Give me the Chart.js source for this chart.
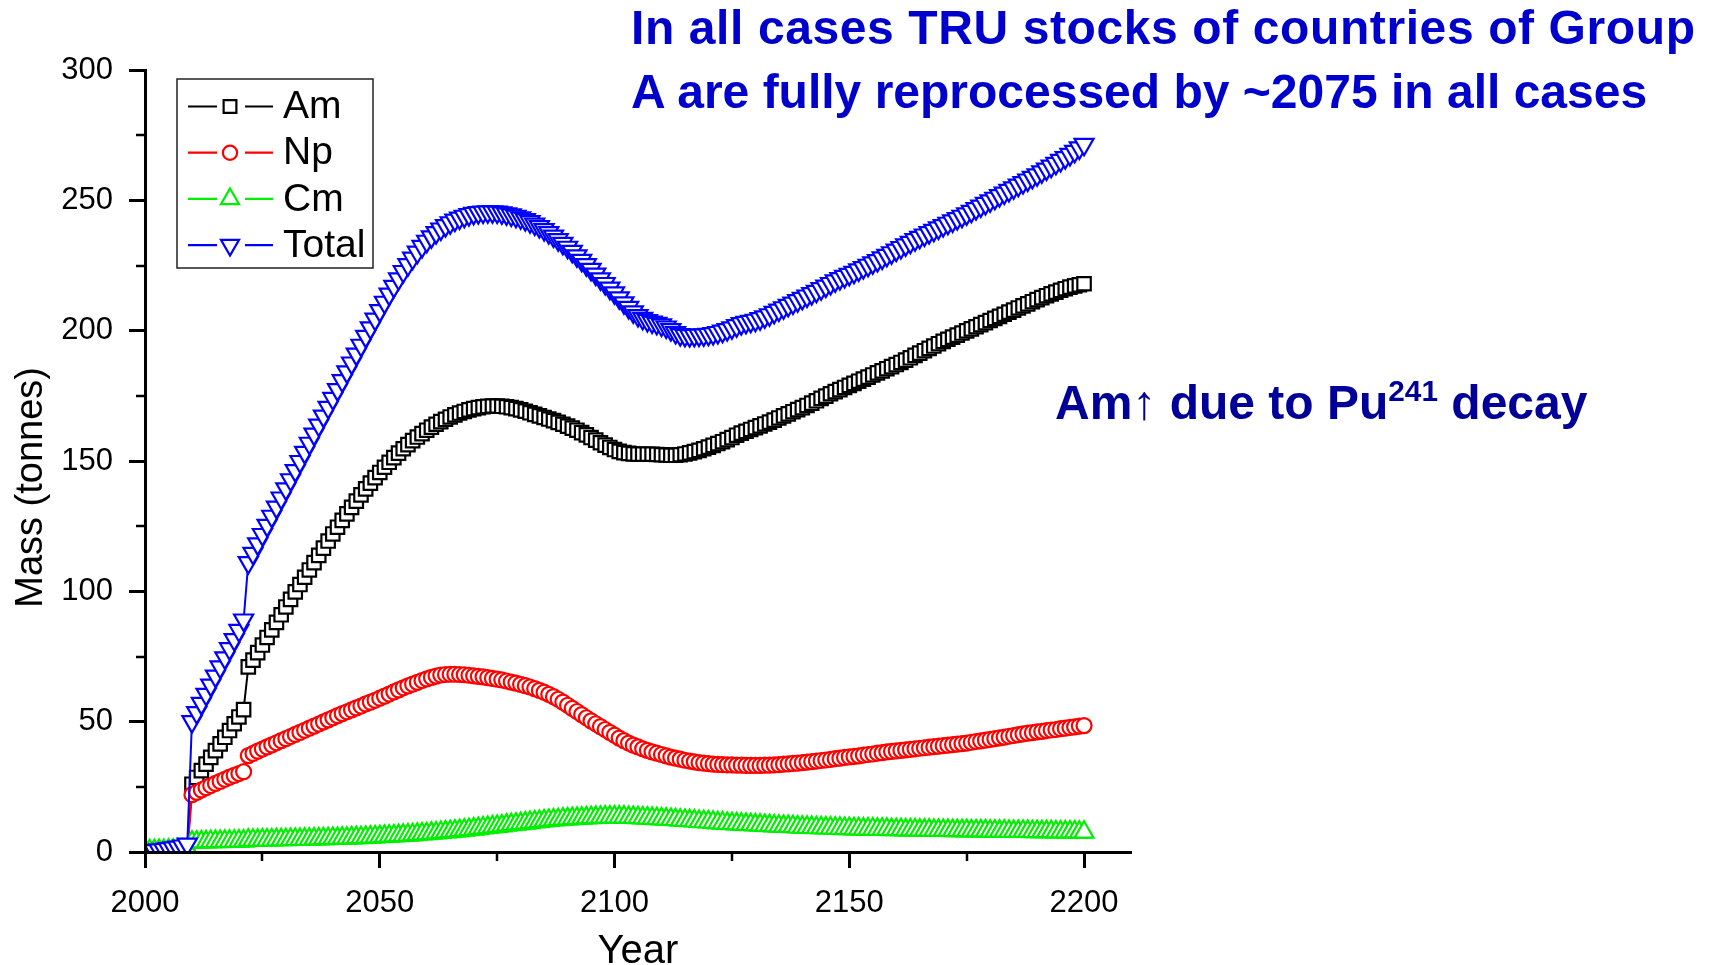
<!DOCTYPE html>
<html><head><meta charset="utf-8">
<script src="https://cdn.jsdelivr.net/npm/chart.js@4.4.1/dist/chart.umd.min.js"></script>
<style>
html,body{margin:0;padding:0;background:#fff;}
#wrap{position:relative;width:1712px;height:965px;overflow:hidden;background:#fff;}
canvas{position:absolute;left:0;top:0;}
.note{position:absolute;font-family:"Liberation Sans",Arial,sans-serif;font-weight:bold;white-space:nowrap;font-size:48px;line-height:48px;}
.note sup{font-size:0.62em;vertical-align:0;position:relative;top:-0.62em;}
.arrow{font-weight:normal;}
</style></head><body>
<div id="wrap">
<canvas id="c" width="1712" height="965"></canvas>
<div class="note" style="left:631px;top:4px;color:#0000CC;letter-spacing:0.6px">In all cases TRU stocks of countries of Group</div>
<div class="note" style="left:631px;top:68px;color:#0000CC">A are fully reprocessed by ~2075 in all cases</div>
<div class="note" style="left:1055px;top:379px;color:#000099">Am<span class="arrow">↑</span> due to Pu<sup>241</sup> decay</div>
</div>
<script>
const years = [
2000,2001,2002,2003,2004,2005,2006,2007,2008,2009,
2010,2011,2012,2013,2014,2015,2016,2017,2018,2019,
2020,2021,2022,2023,2024,2025,2026,2027,2028,2029,
2030,2031,2032,2033,2034,2035,2036,2037,2038,2039,
2040,2041,2042,2043,2044,2045,2046,2047,2048,2049,
2050,2051,2052,2053,2054,2055,2056,2057,2058,2059,
2060,2061,2062,2063,2064,2065,2066,2067,2068,2069,
2070,2071,2072,2073,2074,2075,2076,2077,2078,2079,
2080,2081,2082,2083,2084,2085,2086,2087,2088,2089,
2090,2091,2092,2093,2094,2095,2096,2097,2098,2099,
2100,2101,2102,2103,2104,2105,2106,2107,2108,2109,
2110,2111,2112,2113,2114,2115,2116,2117,2118,2119,
2120,2121,2122,2123,2124,2125,2126,2127,2128,2129,
2130,2131,2132,2133,2134,2135,2136,2137,2138,2139,
2140,2141,2142,2143,2144,2145,2146,2147,2148,2149,
2150,2151,2152,2153,2154,2155,2156,2157,2158,2159,
2160,2161,2162,2163,2164,2165,2166,2167,2168,2169,
2170,2171,2172,2173,2174,2175,2176,2177,2178,2179,
2180,2181,2182,2183,2184,2185,2186,2187,2188,2189,
2190,2191,2192,2193,2194,2195,2196,2197,2198,2199,
2200];

const amValues = [
0,0,0,0,0,0,0,0,0,0,
26.0,28.6,31.2,33.7,36.3,38.9,41.5,44.0,46.6,49.2,
51.8,54.6,71.0,73.6,76.5,79.4,82.3,85.2,88.1,91.0,
94.0,96.9,99.8,102.6,105.4,108.2,111.0,113.8,116.6,119.3,
122.0,124.6,127.2,129.7,132.2,134.6,137.0,139.3,141.5,143.6,
145.6,147.6,149.5,151.3,153.0,154.7,156.3,157.8,159.2,160.5,
161.8,163.0,164.1,165.1,166.0,166.9,167.7,168.4,169.0,169.6,
170.1,170.5,170.8,171.0,171.1,171.1,171.0,170.8,170.5,170.1,
169.6,169.1,168.5,167.9,167.3,166.7,166.1,165.5,164.8,164.1,
163.4,162.6,161.8,160.9,160.0,159.0,158.0,157.0,156.1,155.2,
154.4,153.7,153.2,152.9,152.7,152.6,152.6,152.6,152.6,152.5,
152.4,152.3,152.2,152.2,152.4,152.7,153.1,153.6,154.1,154.7,
155.3,156.0,156.7,157.4,158.2,159.0,159.9,160.7,161.4,162.1,
162.8,163.5,164.2,164.9,165.7,166.5,167.3,168.1,168.9,169.7,
170.5,171.3,172.2,173.1,174.0,174.9,175.8,176.6,177.4,178.2,
179.0,179.8,180.6,181.4,182.2,183.0,183.8,184.6,185.4,186.2,
187.0,187.8,188.7,189.6,190.5,191.4,192.3,193.2,194.1,195.0,
195.9,196.7,197.5,198.3,199.1,199.9,200.7,201.5,202.3,203.1,
203.9,204.7,205.5,206.3,207.1,207.9,208.7,209.5,210.3,211.1,
211.9,212.7,213.4,214.1,214.8,215.5,216.1,216.7,217.2,217.6,
218.0];

const npValues = [
0,0,0,0,0,0,0,0,0,0,
22.0,22.9,23.8,24.7,25.5,26.3,27.1,27.9,28.7,29.4,
30.1,30.8,37.0,37.8,38.7,39.5,40.3,41.1,41.9,42.7,
43.5,44.3,45.1,45.9,46.7,47.5,48.3,49.1,49.9,50.7,
51.5,52.3,53.1,53.8,54.5,55.3,56.0,56.8,57.5,58.2,
59.0,59.8,60.6,61.4,62.2,63.0,63.7,64.4,65.1,65.8,
66.4,67.0,67.5,67.9,68.1,68.2,68.2,68.1,68.0,67.8,
67.6,67.4,67.2,66.9,66.6,66.3,66.0,65.6,65.2,64.8,
64.3,63.8,63.3,62.7,62.0,61.3,60.5,59.6,58.6,57.5,
56.3,55.1,53.9,52.7,51.5,50.3,49.2,48.1,47.0,45.9,
44.8,43.7,42.7,41.8,41.0,40.3,39.6,39.0,38.4,37.9,
37.4,36.9,36.4,36.0,35.6,35.2,34.9,34.6,34.3,34.1,
33.9,33.7,33.6,33.5,33.4,33.4,33.3,33.3,33.2,33.2,
33.2,33.2,33.3,33.3,33.4,33.5,33.7,33.8,34.0,34.1,
34.3,34.5,34.7,34.9,35.1,35.3,35.5,35.8,36.0,36.3,
36.5,36.7,36.9,37.2,37.4,37.6,37.9,38.1,38.4,38.6,
38.8,39.0,39.2,39.4,39.6,39.8,40.0,40.2,40.4,40.6,
40.8,41.0,41.2,41.4,41.6,41.8,42.1,42.4,42.6,42.9,
43.2,43.5,43.8,44.1,44.4,44.7,45.0,45.3,45.6,45.8,
46.1,46.3,46.6,46.8,47.0,47.3,47.5,47.8,48.0,48.3,
48.5];

const cmValues = [
0.4,0.5,0.5,0.6,0.6,0.7,0.7,0.8,0.8,0.9,
3.8,3.8,3.9,3.9,4.0,4.0,4.0,4.1,4.1,4.1,
4.2,4.2,4.5,4.5,4.5,4.6,4.6,4.6,4.7,4.7,
4.7,4.8,4.8,4.8,4.9,4.9,5.0,5.0,5.1,5.1,
5.2,5.2,5.3,5.3,5.4,5.5,5.5,5.6,5.7,5.8,
5.9,6.0,6.1,6.2,6.3,6.4,6.5,6.6,6.8,6.9,
7.0,7.2,7.3,7.5,7.7,7.8,8.0,8.2,8.4,8.6,
8.8,9.0,9.2,9.4,9.6,9.8,10.0,10.3,10.5,10.7,
10.9,11.1,11.3,11.5,11.7,11.9,12.1,12.3,12.4,12.6,
12.7,12.8,12.9,13.0,13.1,13.2,13.3,13.3,13.4,13.4,
13.4,13.4,13.4,13.3,13.3,13.2,13.1,13.0,12.9,12.8,
12.7,12.6,12.5,12.4,12.2,12.1,12.0,11.9,11.7,11.6,
11.5,11.4,11.2,11.1,11.0,10.9,10.8,10.7,10.6,10.5,
10.4,10.3,10.2,10.1,10.0,9.9,9.8,9.8,9.7,9.6,
9.5,9.5,9.4,9.3,9.3,9.2,9.2,9.1,9.1,9.0,
9.0,8.9,8.9,8.8,8.8,8.8,8.7,8.7,8.7,8.6,
8.6,8.6,8.5,8.5,8.5,8.4,8.4,8.4,8.3,8.3,
8.3,8.3,8.2,8.2,8.2,8.2,8.1,8.1,8.1,8.1,
8.0,8.0,8.0,8.0,7.9,7.9,7.9,7.9,7.9,7.8,
7.8,7.8,7.8,7.8,7.7,7.7,7.7,7.7,7.7,7.6,
7.6];

const totalValues = [
0.0,0.3,0.5,0.8,1.0,1.3,1.6,1.9,2.3,3.0,
50.0,53.5,57.0,60.5,64.0,67.5,71.0,74.5,78.0,81.5,
85.0,89.0,111.0,114.6,118.2,121.8,125.3,128.8,132.3,135.8,
139.3,142.8,146.3,149.8,153.3,156.8,160.3,163.8,167.2,170.6,
174.0,177.4,180.8,184.2,187.6,191.0,194.4,197.8,201.1,204.4,
207.7,210.9,214.0,217.0,219.9,222.7,225.3,227.8,230.1,232.3,
234.3,236.0,237.6,239.0,240.3,241.4,242.4,243.2,243.9,244.5,
245.0,245.3,245.5,245.6,245.6,245.5,245.2,244.8,244.4,243.9,
243.3,242.6,241.8,240.9,239.9,238.8,237.6,236.3,234.9,233.5,
232.0,230.4,228.7,227.0,225.3,223.5,221.7,219.9,218.1,216.3,
214.5,212.6,210.7,208.9,207.2,205.8,204.7,203.9,203.3,202.8,
202.2,201.4,200.4,199.3,198.5,198.2,198.1,198.2,198.3,198.4,
198.6,198.9,199.3,199.8,200.4,201.1,201.9,202.7,203.2,203.6,
204.0,204.6,205.3,206.1,207.0,207.9,208.8,209.7,210.6,211.5,
212.4,213.3,214.2,215.1,216.1,217.1,218.1,219.1,220.0,220.8,
221.6,222.4,223.3,224.2,225.1,226.0,226.9,227.9,228.9,229.9,
230.9,231.9,232.9,233.9,234.9,235.8,236.7,237.6,238.5,239.4,
240.3,241.2,242.1,243.0,243.9,244.8,245.8,246.8,247.8,248.8,
249.8,250.8,251.8,252.8,253.8,254.8,255.8,256.8,257.8,258.8,
259.8,260.9,262.0,263.1,264.2,265.3,266.4,267.6,268.8,270.1,
271.5];

const seriesNames = ['Am', 'Np', 'Cm', 'Total'];
const xMajorTicks = [2000, 2050, 2100, 2150, 2200];
const xMinorTicks = [2025, 2075, 2125, 2175];
const yMajorTicks = [0, 50, 100, 150, 200, 250, 300];
const yMinorTicks = [25, 75, 125, 175, 225, 275];
const xAxisTitle = 'Year';
const yAxisTitle = 'Mass (tonnes)';

const FONT = '"Liberation Sans", Arial, sans-serif';

const styles = [
  {color: '#000000', point: 'rect', radius: 9.5, rotation: 0},
  {color: '#FF0000', point: 'circle', radius: 7.5, rotation: 0},
  {color: '#00EE00', point: 'triangle', radius: 11, rotation: 0},
  {color: '#0000FF', point: 'triangle', radius: 11, rotation: 180}
];
const seriesData = [amValues, npValues, cmValues, totalValues];

const datasets = seriesNames.map((name, i) => ({
  label: name,
  data: seriesData[i],
  borderColor: styles[i].color,
  backgroundColor: '#ffffff',
  borderWidth: 2,
  pointStyle: styles[i].point,
  pointRadius: styles[i].radius,
  pointRotation: styles[i].rotation,
  pointBorderColor: styles[i].color,
  pointBackgroundColor: '#ffffff',
  pointBorderWidth: 2.2,
  tension: 0,
  order: 4 - i,
  clip: {left: 0, top: 20, right: 20, bottom: 0}
}));

function markerPath(ctx, style, r, x, y) {
  ctx.beginPath();
  if (style.point === 'rect') {
    const s = Math.SQRT1_2 * r;
    ctx.rect(x - s, y - s, 2 * s, 2 * s);
  } else if (style.point === 'circle') {
    ctx.arc(x, y, r, 0, Math.PI * 2);
  } else {
    let a = style.rotation * Math.PI / 180;
    ctx.moveTo(x + Math.sin(a) * r, y - Math.cos(a) * r);
    a += 2 * Math.PI / 3;
    ctx.lineTo(x + Math.sin(a) * r, y - Math.cos(a) * r);
    a += 2 * Math.PI / 3;
    ctx.lineTo(x + Math.sin(a) * r, y - Math.cos(a) * r);
    ctx.closePath();
  }
}

const extras = {
  id: 'extras',
  afterDraw(chart) {
    const ctx = chart.ctx;
    const xs = chart.scales.x, ys = chart.scales.y;
    const ca = chart.chartArea;
    ctx.save();
    // minor ticks
    ctx.strokeStyle = '#000';
    ctx.lineWidth = 2.5;
    ctx.beginPath();
    xMinorTicks.forEach(v => {
      const px = Math.round(xs.getPixelForValue(v));
      ctx.moveTo(px, ca.bottom);
      ctx.lineTo(px, ca.bottom + 9);
    });
    yMinorTicks.forEach(v => {
      const py = Math.round(ys.getPixelForValue(v));
      ctx.moveTo(ca.left, py);
      ctx.lineTo(ca.left - 9, py);
    });
    ctx.stroke();
    // legend
    const lx = ca.left + 32, ly = ca.top + 9, lw = 196, lh = 189;
    ctx.fillStyle = '#fff';
    ctx.fillRect(lx, ly, lw, lh);
    ctx.strokeStyle = '#222';
    ctx.lineWidth = 1.5;
    ctx.strokeRect(lx, ly, lw, lh);
    ctx.font = '39px ' + FONT;
    ctx.textBaseline = 'middle';
    ctx.textAlign = 'left';
    chart.data.datasets.forEach((ds, i) => {
      const st = styles[i];
      const cy = ly + 27.5 + i * 46.2;
      const mx = lx + 53;
      ctx.strokeStyle = st.color;
      ctx.lineWidth = 2.2;
      ctx.beginPath();
      ctx.moveTo(lx + 11, cy); ctx.lineTo(mx - 13, cy);
      ctx.moveTo(mx + 15, cy); ctx.lineTo(lx + 96, cy);
      ctx.stroke();
      markerPath(ctx, st, st.radius * 0.95, mx, cy);
      ctx.fillStyle = '#fff';
      ctx.fill();
      ctx.stroke();
      ctx.fillStyle = '#000';
      ctx.fillText(ds.label, lx + 106, cy + 1);
    });
    ctx.restore();
  }
};

new Chart(document.getElementById('c'), {
  type: 'line',
  data: {labels: years, datasets},
  options: {
    responsive: false,
    animation: false,
    devicePixelRatio: 1,
    events: [],
    layout: {padding: {left: 0, right: 581, top: 70, bottom: 0}},
    plugins: {legend: {display: false}, tooltip: {enabled: false}, title: {display: false}},
    scales: {
      x: {
        type: 'linear',
        min: 2000,
        max: 2210,
        afterBuildTicks: s => { s.ticks = xMajorTicks.map(v => ({value: v})); },
        afterFit: s => { s.height = 113; },
        ticks: {color: '#000', font: {family: FONT, size: 31}, padding: 17, maxRotation: 0, autoSkip: false,
                callback: v => String(v)},
        grid: {drawOnChartArea: false, drawTicks: true, tickLength: 16, tickWidth: 3, tickColor: '#000'},
        border: {display: true, color: '#000', width: 3, z: 1},
        title: {display: true, text: xAxisTitle, color: '#000', font: {family: FONT, size: 40, lineHeight: 1}, padding: {top: 0, bottom: -7}}
      },
      y: {
        type: 'linear',
        min: 0,
        max: 300,
        afterBuildTicks: s => { s.ticks = yMajorTicks.map(v => ({value: v})); },
        afterFit: s => { s.width = 145; },
        ticks: {color: '#000', font: {family: FONT, size: 31}, padding: 16, autoSkip: false,
                callback: v => String(v)},
        grid: {drawOnChartArea: false, drawTicks: true, tickLength: 16, tickWidth: 3, tickColor: '#000'},
        border: {display: true, color: '#000', width: 3, z: 1},
        title: {display: true, text: yAxisTitle + '     ', color: '#000', font: {family: FONT, size: 38, lineHeight: 1.2}, padding: {top: 9, bottom: 0}}
      }
    }
  },
  plugins: [extras]
});
</script>
</body></html>
